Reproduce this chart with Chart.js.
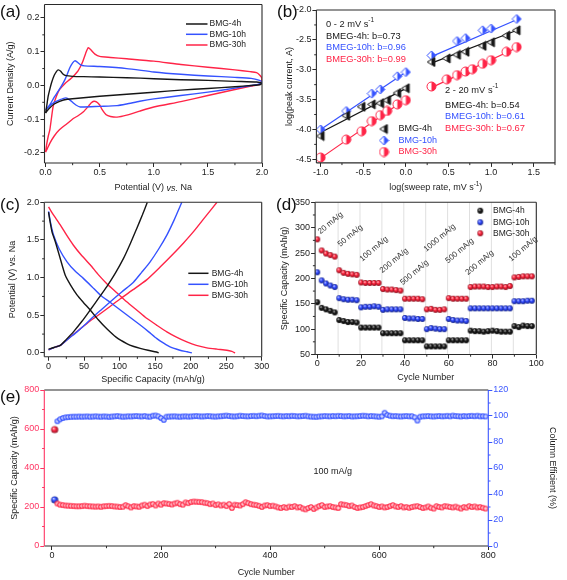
<!DOCTYPE html>
<html><head><meta charset="utf-8">
<script src="https://cdn.jsdelivr.net/npm/chart.js@4.4.1/dist/chart.umd.min.js"></script>
<style>
html,body{margin:0;padding:0;background:#fff;}
body{width:567px;height:580px;position:relative;overflow:hidden;font-family:'Liberation Sans',Arial,sans-serif;}
canvas{position:absolute;}
.lbl{position:absolute;font-size:17px;line-height:17px;color:#111;font-family:'Liberation Sans',Arial,sans-serif;}
</style></head><body>
<canvas id="ca"></canvas><canvas id="cb"></canvas><canvas id="cc"></canvas><canvas id="cd"></canvas><canvas id="ce"></canvas>
<div class="lbl" style="left:0px;top:3px">(a)</div>
<div class="lbl" style="left:277px;top:3px">(b)</div>
<div class="lbl" style="left:0px;top:196px">(c)</div>
<div class="lbl" style="left:276px;top:196px">(d)</div>
<div class="lbl" style="left:0px;top:388px">(e)</div>
<script>
// ---------------- DATA ----------------
const seriesNames = ['BMG-4h', 'BMG-10h', 'BMG-30h'];

// (a) cyclic voltammetry: potential (V) and current density (A/g)
const cvV4 = [0,0.01,0.024,0.04,0.055,0.08,0.1,0.117,0.14,0.16,0.19,0.25,0.35,0.5,0.75,1.0,1.25,1.5,1.75,1.95,2.0,
  1.98,1.9,1.75,1.5,1.25,1.0,0.75,0.5,0.3,0.2,0.13,0.08,0.04,0.015,0];
const cvI4 = [-0.082,-0.062,-0.032,-0.01,0.008,0.03,0.041,0.046,0.042,0.034,0.029,0.027,0.026,0.025,0.023,0.02,0.017,0.015,0.012,0.01,0.006,
  0.002,0.0,-0.004,-0.009,-0.014,-0.02,-0.026,-0.032,-0.038,-0.041,-0.047,-0.055,-0.066,-0.075,-0.082];
const cvV10 = [0,0.02,0.04,0.08,0.117,0.15,0.18,0.2,0.225,0.25,0.27,0.29,0.32,0.36,0.5,0.75,1.0,1.25,1.5,1.75,1.9,1.97,2.0,
  1.97,1.9,1.75,1.5,1.25,1.0,0.87,0.75,0.66,0.5,0.32,0.28,0.256,0.22,0.188,0.16,0.13,0.08,0.04,0.015,0];
const cvI10 = [-0.072,-0.065,-0.057,-0.035,-0.017,0.0,0.018,0.033,0.053,0.067,0.073,0.07,0.062,0.058,0.056,0.05,0.04,0.033,0.028,0.024,0.021,0.016,0.01,
  0.004,0.0,-0.008,-0.02,-0.03,-0.04,-0.047,-0.055,-0.06,-0.062,-0.064,-0.058,-0.052,-0.042,-0.037,-0.039,-0.043,-0.05,-0.06,-0.068,-0.072];
const cvV30 = [0,0.01,0.025,0.04,0.055,0.07,0.1,0.13,0.18,0.225,0.27,0.3,0.34,0.37,0.395,0.42,0.456,0.5,0.6,0.75,1.0,1.25,1.5,1.75,1.89,1.95,1.98,2.0,
  1.98,1.9,1.75,1.5,1.25,1.0,0.87,0.75,0.66,0.6,0.56,0.52,0.5,0.47,0.447,0.42,0.4,0.35,0.3,0.256,0.2,0.13,0.08,0.04,0.015,0];
const cvI30 = [-0.198,-0.175,-0.15,-0.13,-0.095,-0.062,-0.032,-0.012,0.006,0.018,0.032,0.043,0.068,0.095,0.112,0.105,0.093,0.086,0.083,0.079,0.072,0.062,0.054,0.046,0.041,0.038,0.03,0.02,
  0.004,-0.002,-0.012,-0.03,-0.048,-0.064,-0.076,-0.088,-0.094,-0.092,-0.087,-0.07,-0.058,-0.049,-0.047,-0.052,-0.06,-0.078,-0.09,-0.098,-0.113,-0.131,-0.15,-0.171,-0.188,-0.198];
const aTicksX = [0, 0.5, 1.0, 1.5, 2.0];
const aTicksY = [-0.2, -0.1, 0.0, 0.1, 0.2];

// (b) log(peak current) vs log(sweep rate)
const logLow = [-1.0, -0.7, -0.52, -0.4, -0.3, -0.22, -0.1, 0.0];
const logLow10 = [-1.0, -0.7, -0.4, -0.3, -0.1, 0.0];
const peak4Low = [-4.11, -3.77, -3.62, -3.58, -3.56, -3.51, -3.39, -3.31];
const peak10Low = [-4.0, -3.69, -3.40, -3.33, -3.11, -3.04];
const peak30Low = [-4.47, -4.17, -4.03, -3.86, -3.76, -3.69, -3.58, -3.51];
const logHigh4 = [0.30, 0.48, 0.60, 0.70, 0.90, 1.0, 1.18, 1.30];
const logHigh10 = [0.30, 0.60, 0.70, 0.90, 1.0, 1.30];
const logHigh30 = [0.30, 0.48, 0.60, 0.70, 0.78, 0.90, 1.0, 1.18, 1.30];
const peak4High = [-2.87, -2.81, -2.75, -2.70, -2.60, -2.54, -2.43, -2.34];
const peak10High = [-2.76, -2.52, -2.47, -2.34, -2.31, -2.15];
const peak30High = [-3.28, -3.16, -3.09, -3.03, -2.99, -2.90, -2.84, -2.70, -2.62];
const fitXLow = [-1.0, 0.02], fitXHigh = [0.30, 1.32];
const fit4Low = [-4.05, -3.30], fit10Low = [-4.00, -3.02], fit30Low = [-4.48, -3.47];
const fit4High = [-2.89, -2.33], fit10High = [-2.78, -2.15], fit30High = [-3.30, -2.62];
const bTicksX = [-1.0, -0.5, 0.0, 0.5, 1.0, 1.5];
const bTicksY = [-4.5, -4.0, -3.5, -3.0, -2.5, -2.0];
const bLow = ['0 - 2 mV s', 'BMEG-4h: b=0.73', 'BMEG-10h: b=0.96', 'BMEG-30h: b=0.99'];
const bHigh = ['2 - 20 mV s', 'BMEG-4h: b=0.54', 'BMEG-10h: b=0.61', 'BMEG-30h: b=0.67'];

// (c) charge / discharge profiles: capacity (mAh/g), potential (V)
const dis4Cap = [0,2,5,9.4,15,23.5,31,40,49,58.6,70,82,95,110,120,129,140,152,155];
const dis4V = [1.87,1.75,1.6,1.48,1.3,1.03,0.9,0.77,0.67,0.57,0.44,0.32,0.21,0.125,0.085,0.06,0.035,0.013,0.0];
const chg4Cap = [0,5,10,16.5,25,35,47,58.6,70,82,94,105.5,115,124,132,139];
const chg4V = [0.05,0.065,0.08,0.10,0.18,0.28,0.42,0.57,0.72,0.88,1.06,1.255,1.45,1.65,1.83,2.0];
const dis10Cap = [0,3,7,15,26,37,49,61,72.7,87,101,115,129,141,152.5,162,171,185,195,201.7];
const dis10V = [1.88,1.72,1.565,1.38,1.21,1.09,0.99,0.88,0.77,0.67,0.57,0.47,0.37,0.28,0.19,0.13,0.08,0.036,0.015,0.0];
const chg10Cap = [0,5,10,16.5,28,40,52,63,75,87,103,119.5,131,143,155,166.5,177,187.6];
const chg10V = [0.04,0.06,0.08,0.10,0.19,0.28,0.38,0.48,0.58,0.68,0.81,0.94,1.07,1.21,1.38,1.565,1.77,2.0];
const dis30Cap = [0,5,10,16.5,25,35,46,58.6,70,82,96,110,124,138,152,166.5,180,194.6,208,222.8,237,251,258,262.6];
const dis30V = [1.94,1.86,1.79,1.70,1.57,1.43,1.30,1.17,1.04,0.92,0.80,0.68,0.57,0.46,0.37,0.28,0.21,0.146,0.1,0.067,0.05,0.036,0.02,0.0];
const chg30Cap = [0,5,10,16.5,30,44.6,58,72.7,87,101,119,138,157,176,190,204,220,237];
const chg30V = [0.04,0.06,0.08,0.10,0.21,0.32,0.42,0.52,0.62,0.72,0.84,0.97,1.14,1.32,1.46,1.61,1.80,2.0];
const cTicksX = [0, 50, 100, 150, 200, 250, 300];
const cTicksY = [0.0, 0.5, 1.0, 1.5, 2.0];

// (d) rate capability
const rateCycle = [0,2,4,6,8,10,12,14,16,18,20,22,24,26,28,30,32,34,36,38,40,42,44,46,48,
  50,52,54,56,58,60,62,64,66,68,70,72,74,76,78,80,82,84,86,88,90,92,94,96,98];
const rate4 = [153,142,139,136,133, 118,116,114,114,113, 103,103,103,103,103, 92,92,92,92,92, 78,78,78,78,78,
  66,66,66,66,66, 78,78,78,78,78, 97,96,96,95,96,97,96,95,95,95, 106,104,107,106,106];
const rate10 = [212,196,190,186,183, 161,159,158,158,157, 143,144,144,145,144, 138,139,139,139,139, 122,121,121,120,120,
  100,102,101,100,100, 120,118,117,117,116, 141,141,141,141,141,141,141,141,141,141, 155,155,155,156,156];
const rate30 = [277,255,249,246,243, 216,211,209,208,207, 192,191,191,191,191, 179,178,178,177,176, 160,160,160,160,159,
  139,140,138,138,139, 161,160,160,160,160, 183,184,184,184,183,183,184,184,183,185, 202,203,204,204,204];
const rateBreaks = [9.5,19.5,29.5,39.5,49.5,59.5,69.5,79.5,89.5];
const rateLabels = ['20 mA/g','50 mA/g','100 mA/g','200 mA/g','500 mA/g','1000 mA/g','500 mA/g','200 mA/g','100 mA/g'];
const dTicksX = [0, 20, 40, 60, 80, 100];
const dTicksY = [50, 100, 150, 200, 250, 300, 350];

// (e) long-term cycling at 100 mA/g
const cycE = [5,10,15,20,25,30,35,40,45,50,
  55,60,65,70,75,80,85,90,95,100,
  105,110,115,120,125,130,135,140,145,150,
  155,160,165,170,175,180,185,190,195,200,
  205,210,215,220,225,230,235,240,245,250,
  255,260,265,270,275,280,285,290,295,300,
  305,310,315,320,325,330,335,340,345,350,
  355,360,365,370,375,380,385,390,395,400,
  405,410,415,420,425,430,435,440,445,450,
  455,460,465,470,475,480,485,490,495,500,
  505,510,515,520,525,530,535,540,545,550,
  555,560,565,570,575,580,585,590,595,600,
  605,610,615,620,625,630,635,640,645,650,
  655,660,665,670,675,680,685,690,695,700,
  705,710,715,720,725,730,735,740,745,750,
  755,760,765,770,775,780,785,790,795];
const capE = [597,
  218,212,210,208,207,206,205,204,204,205,
  207,205,204,203,202,203,201,204,205,206,
  205,203,202,200,201,210,204,198,205,203,
  201,208,212,205,213,216,208,218,212,220,
  218,216,213,218,222,215,212,224,220,226,
  228,227,226,225,222,220,215,218,210,214,
  208,212,205,216,195,212,210,208,215,225,
  220,215,212,210,206,200,208,210,205,207,
  203,198,195,200,196,202,200,205,198,200,
  192,188,195,200,190,198,205,210,200,203,
  205,200,198,195,215,212,210,205,208,200,
  195,198,200,205,210,215,208,205,200,203,
  198,200,205,210,203,200,205,198,200,196,
  200,203,205,200,195,198,203,196,192,205,
  200,198,205,203,200,198,202,197,192,200,
  197,205,200,203,198,200,196,192];
const ceE = [35.5,
  96,97.5,98.5,99,99.2,99.4,99.5,99.5,99.6,99.5,
  99.6,99.7,99.5,99.6,99.8,99.6,99.5,99.7,99.6,99.4,
  99.6,99.8,100,99.7,99.5,99.6,99.8,99.7,99.9,100,
  99.8,99.7,100,99.6,99.5,100.2,100.4,99.8,98.5,97,
  99.5,99.6,99.7,99.8,99.6,99.5,99.7,99.8,99.6,99.7,
  99.9,100,99.8,99.7,99.8,100,99.9,99.7,99.6,99.8,
  99.9,100.1,100.3,100,99.8,99.7,99.9,100.2,100,99.9,
  99.8,100,100.1,99.9,100.2,100.4,100,99.7,99.8,99.9,
  100,100.1,99.9,99.8,100,99.9,100.1,100,99.8,99.9,
  100,100.2,99.8,99.6,99.5,99.4,99.7,99.8,100,99.9,
  99.8,100,99.9,100.1,100,99.8,99.9,100,99.7,99.8,
  99.9,100,100.2,100.1,99.8,100,99.9,99.7,99.5,99.8,
  102.5,100.8,100.2,99.9,100,99.8,99.7,99.9,100,99.8,
  99.9,99,96.5,99.5,99.8,99.9,100,99.8,99.7,99.9,
  100,99.8,99.9,100.1,99.8,100.3,100,99.9,99.7,100,
  99.8,100,100.1,99.9,100.2,99.8,99.9,99.7];
const eTicksX = [0, 200, 400, 600, 800];
const eTicksY = [0, 200, 400, 600, 800];
const eTicksY2 = [0, 20, 40, 60, 80, 100, 120];

// ---------------- STYLE / HELPERS ----------------
const FONT = "'Liberation Sans', Arial, sans-serif";
const NARROW = "'Liberation Sans Narrow', 'Liberation Sans', Arial, sans-serif";
Chart.defaults.font.family = FONT;
Chart.defaults.font.size = 9;
Chart.defaults.color = '#222';
const BLACK = '#161616', BLUE = '#3552ff', RED = '#ff2447';
const EREDAX = '#ff3563', EBLUEAX = '#3a56ff';
const AX = '#2a2a2a';
const TITLE_V = {size: 9, family: FONT};
const TITLE_H = {size: 9, family: NARROW};

const pts = (xs, ys) => xs.map((x, i) => ({x, y: ys[i]}));
const f1 = v => Number(v).toFixed(1);
const f0 = v => String(Math.round(v));

function setupCanvas(id, left, top, w, h) {
  const c = document.getElementById(id);
  c.width = w; c.height = h;
  c.style.left = left + 'px'; c.style.top = top + 'px';
  c.style.width = w + 'px'; c.style.height = h + 'px';
  return c;
}

function ball(rgb, r) {
  const s = Math.ceil(2 * r + 2), c = document.createElement('canvas');
  c.width = c.height = s;
  const g = c.getContext('2d'), m = s / 2;
  const lite = rgb.map(v => Math.round(v + (255 - v) * 0.8));
  const dark = rgb.map(v => Math.round(v * 0.55));
  const gr = g.createRadialGradient(m - r * 0.35, m - r * 0.4, r * 0.05, m, m, r);
  gr.addColorStop(0, 'rgb(' + lite + ')');
  gr.addColorStop(0.45, 'rgb(' + rgb + ')');
  gr.addColorStop(1, 'rgb(' + dark + ')');
  g.fillStyle = gr; g.beginPath(); g.arc(m, m, r, 0, 2 * Math.PI); g.fill();
  return c;
}
function ring(rgb, r) {
  const s = Math.ceil(2 * r + 3), c = document.createElement('canvas');
  c.width = c.height = s;
  const g = c.getContext('2d'), m = s / 2;
  const lite = rgb.map(v => Math.round(v + (255 - v) * 0.75));
  g.beginPath(); g.arc(m, m, r, 0, 2 * Math.PI);
  g.fillStyle = 'rgb(' + lite + ')'; g.fill();
  g.lineWidth = 1.1; g.strokeStyle = 'rgb(' + rgb + ')'; g.stroke();
  return c;
}
function halfMarker(shape, color, size) {
  const s = size + 2, c = document.createElement('canvas');
  c.width = c.height = s;
  const g = c.getContext('2d'), m = s / 2, r = size / 2;
  const path = () => {
    g.beginPath();
    if (shape === 'tri') { g.moveTo(m + r * 0.75, m - r); g.lineTo(m + r * 0.75, m + r); g.lineTo(m - r * 0.95, m); g.closePath(); }
    else if (shape === 'dia') { g.moveTo(m, m - r); g.lineTo(m + r, m); g.lineTo(m, m + r); g.lineTo(m - r, m); g.closePath(); }
    else { g.arc(m, m, r, 0, Math.PI * 2); }
  };
  path(); g.fillStyle = '#fff'; g.fill();
  g.save(); path(); g.clip(); g.fillStyle = color; g.fillRect(m, 0, s, s); g.restore();
  path(); g.lineWidth = 1; g.strokeStyle = color; g.stroke();
  return c;
}
function rich(ctx, parts, x, y, size, align, color, fam) {
  fam = fam || FONT;
  const fontFor = p => (p.it ? 'italic ' : '') + (p.sup ? size * 0.7 : size) + 'px ' + fam;
  let w = 0;
  parts.forEach(p => { ctx.font = fontFor(p); p.w = ctx.measureText(p.t).width; w += p.w; });
  let cx = align === 'center' ? x - w / 2 : (align === 'right' ? x - w : x);
  ctx.textBaseline = 'middle'; ctx.textAlign = 'left';
  parts.forEach(p => {
    ctx.font = fontFor(p); ctx.fillStyle = p.c || color;
    ctx.fillText(p.t, cx, p.sup ? y - size * 0.38 : y); cx += p.w;
  });
}

// frame + minor ticks
const framePlugin = {
  id: 'frame',
  afterDraw(chart, args, opts) {
    const {ctx, chartArea: a} = chart;
    const col = opts.colors || {};
    ctx.save();
    ctx.lineWidth = 1.1;
    const side = (c, x1, y1, x2, y2) => { ctx.strokeStyle = c; ctx.beginPath(); ctx.moveTo(x1, y1); ctx.lineTo(x2, y2); ctx.stroke(); };
    side(col.top || AX, a.left, a.top, a.right, a.top);
    side(col.bottom || AX, a.left, a.bottom, a.right, a.bottom);
    side(col.left || AX, a.left, a.top, a.left, a.bottom);
    side(col.right || AX, a.right, a.top, a.right, a.bottom);
    ctx.lineWidth = 1;
    Object.values(chart.scales).forEach(s => {
      const t = s.ticks.map(k => k.value);
      if (t.length < 2) return;
      const half = (t[1] - t[0]) / 2;
      ctx.strokeStyle = s.options.grid.tickColor || AX;
      const pos = s.options.position;
      for (let v = t[0] - half; v <= s.max + 1e-9; v += 2 * half) {
        if (v < s.min - 1e-9) continue;
        const p = s.getPixelForValue(v);
        ctx.beginPath();
        if (pos === 'left') { ctx.moveTo(a.left, p); ctx.lineTo(a.left - 2.2, p); }
        else if (pos === 'right') { ctx.moveTo(a.right, p); ctx.lineTo(a.right + 2.2, p); }
        else { ctx.moveTo(p, a.bottom); ctx.lineTo(p, a.bottom + 2.2); }
        ctx.stroke();
      }
    });
    ctx.restore();
  }
};
Chart.register(framePlugin);

function linAxis(o) {
  const horiz = o.pos === 'bottom' || o.pos === 'top';
  const color = o.color || AX;
  return {
    type: 'linear', position: o.pos, min: o.min, max: o.max,
    afterBuildTicks: s => { s.ticks = o.ticks.map(v => ({value: v})); },
    afterFit: s => { if (horiz) s.height = o.size; else s.width = o.size; },
    grid: {display: true, drawOnChartArea: false, drawTicks: true, tickLength: 4, tickColor: color, tickWidth: 1},
    border: {display: false},
    ticks: {color: o.labelColor || '#222', font: {size: 9}, padding: horiz ? 0 : 1, maxRotation: 0, minRotation: 0,
      autoSkip: false, callback: v => o.fmt(v)},
    title: o.title ? {display: true, text: o.title, color: '#222', font: horiz ? TITLE_H : TITLE_V, padding: o.titlePad} : {display: false}
  };
}
function baseOpts(pad, scales, frame) {
  return {
    responsive: false, animation: false, devicePixelRatio: 1, events: [],
    layout: {padding: pad},
    plugins: {legend: {display: false}, tooltip: {enabled: false}, frame: frame || {}},
    scales
  };
}
const lineDs = (xs, ys, color, w) => ({data: pts(xs, ys), showLine: true, borderColor: color, borderWidth: w || 1.4,
  pointRadius: 0, fill: false, tension: 0.2});

// ---------------- (a) ----------------
setupCanvas('ca', 0, -2, 275, 197);
new Chart(document.getElementById('ca'), {
  type: 'scatter',
  data: {datasets: [lineDs(cvV4, cvI4, BLACK), lineDs(cvV10, cvI10, BLUE), lineDs(cvV30, cvI30, RED)]},
  options: baseOpts({left: 0, top: 6.5, right: 13, bottom: 0}, {
    x: linAxis({pos: 'bottom', min: -0.01, max: 2.0, ticks: aTicksX, size: 32, fmt: f1}),
    y: linAxis({pos: 'left', min: -0.23, max: 0.24, ticks: aTicksY, size: 44.5, fmt: f1,
      title: 'Current Density (A/g)', titlePad: {top: 5.5, bottom: 0}})
  }),
  plugins: [{id: 'aText', afterDraw(chart) {
    const ctx = chart.ctx, a = chart.chartArea;
    rich(ctx, [{t: 'Potential (V) '}, {t: 'vs.', it: true}, {t: ' Na'}], (a.left + a.right) / 2, 190, 9, 'center', '#222', NARROW);
    const cols = [BLACK, BLUE, RED], ys = [26, 36.3, 47];
    ctx.save();
    seriesNames.forEach((n, i) => {
      ctx.strokeStyle = cols[i]; ctx.lineWidth = 1.5;
      ctx.beginPath(); ctx.moveTo(186, ys[i]); ctx.lineTo(207.5, ys[i]); ctx.stroke();
      ctx.font = '8.5px ' + FONT; ctx.fillStyle = '#222'; ctx.textBaseline = 'middle'; ctx.textAlign = 'left';
      ctx.fillText(n, 209.5, ys[i]);
    });
    ctx.restore();
  }}]
});

// ---------------- (b) ----------------
const mk4 = halfMarker('tri', BLACK, 9), mk10 = halfMarker('dia', BLUE, 9), mk30 = halfMarker('circ', RED, 9);
const mkDs = (xs, ys, img) => ({data: pts(xs, ys), pointStyle: img, pointRadius: 4.5, showLine: false, order: 0});
const fitDs = (xs, ys, color) => Object.assign(lineDs(xs, ys, color, 1.2), {tension: 0, order: 1});
setupCanvas('cb', 280, 0, 287, 195);
new Chart(document.getElementById('cb'), {
  type: 'scatter',
  data: {datasets: [
    mkDs(logLow, peak4Low, mk4), mkDs(logLow10, peak10Low, mk10), mkDs(logLow, peak30Low, mk30),
    mkDs(logHigh4, peak4High, mk4), mkDs(logHigh10, peak10High, mk10), mkDs(logHigh30, peak30High, mk30),
    fitDs(fitXLow, fit4Low, BLACK), fitDs(fitXLow, fit10Low, BLUE), fitDs(fitXLow, fit30Low, RED),
    fitDs(fitXHigh, fit4High, BLACK), fitDs(fitXHigh, fit10High, BLUE), fitDs(fitXHigh, fit30High, RED)
  ]},
  options: baseOpts({left: 0, top: 10, right: 12, bottom: 0}, {
    x: linAxis({pos: 'bottom', min: -1.05, max: 1.75, ticks: bTicksX, size: 32.1, fmt: f1}),
    y: linAxis({pos: 'left', min: -4.56, max: -2.0, ticks: bTicksY, size: 36.4, fmt: f1,
      title: 'log(peak current, A)', titlePad: {top: 4, bottom: 0}})
  }),
  plugins: [{id: 'bText', afterDraw(chart) {
    const ctx = chart.ctx, a = chart.chartArea;
    rich(ctx, [{t: 'log(sweep rate, mV s'}, {t: '-1', sup: true}, {t: ')'}], (a.left + a.right) / 2, 188, 9, 'center', '#222', NARROW);
    const cols = ['#222', BLACK, BLUE, RED];
    const yl = [24, 36, 47.5, 59], yh = [90, 105, 116.5, 128];
    bLow.forEach((t, i) => rich(ctx, i === 0 ? [{t}, {t: '-1', sup: true}] : [{t}], 46, yl[i], 9.3, 'left', cols[i]));
    bHigh.forEach((t, i) => rich(ctx, i === 0 ? [{t}, {t: '-1', sup: true}] : [{t}], 165, yh[i], 9.3, 'left', cols[i]));
    const mks = [mk4, mk10, mk30], tc = [BLACK, BLUE, RED], ly = [129, 140.5, 152];
    seriesNames.forEach((n, i) => {
      ctx.drawImage(mks[i], 104 - mks[i].width / 2, ly[i] - mks[i].height / 2);
      rich(ctx, [{t: n}], 118.5, ly[i], 9, 'left', tc[i]);
    });
  }}]
});

// ---------------- (c) ----------------
setupCanvas('cc', 0, 195, 275, 195);
new Chart(document.getElementById('cc'), {
  type: 'scatter',
  data: {datasets: [
    lineDs(dis4Cap, dis4V, BLACK), lineDs(chg4Cap, chg4V, BLACK),
    lineDs(dis10Cap, dis10V, BLUE), lineDs(chg10Cap, chg10V, BLUE),
    lineDs(dis30Cap, dis30V, RED), lineDs(chg30Cap, chg30V, RED)
  ]},
  options: baseOpts({left: 0, top: 7.3, right: 13.3, bottom: 0}, {
    x: linAxis({pos: 'bottom', min: -6, max: 300, ticks: cTicksX, size: 33.3, fmt: f0,
      title: 'Specific Capacity (mAh/g)', titlePad: {top: 0, bottom: 4.8}}),
    y: linAxis({pos: 'left', min: -0.05, max: 2.0, ticks: cTicksY, size: 44.3, fmt: f1,
      title: 'Potential (V) vs. Na', titlePad: {top: 7.5, bottom: 0}})
  }),
  plugins: [{id: 'cText', afterDraw(chart) {
    const ctx = chart.ctx, cols = [BLACK, BLUE, RED], ys = [78.3, 89.3, 100.3];
    ctx.save();
    seriesNames.forEach((n, i) => {
      ctx.strokeStyle = cols[i]; ctx.lineWidth = 1.5;
      ctx.beginPath(); ctx.moveTo(188.3, ys[i]); ctx.lineTo(208.5, ys[i]); ctx.stroke();
      ctx.font = '8.5px ' + FONT; ctx.fillStyle = '#222'; ctx.textBaseline = 'middle'; ctx.textAlign = 'left';
      ctx.fillText(n, 211.7, ys[i]);
    });
    ctx.restore();
  }}]
});

// ---------------- (d) ----------------
const b4 = ball([25, 25, 25], 2.9), b10 = ball([45, 70, 255], 2.9), b30 = ball([255, 35, 60], 2.9);
const labelAnchors = [[1.5,287],[10.5,262],[20.5,233],[29.7,210],[39,186.5],[49.8,252],[59.7,229.5],[68.8,206],[88.6,233]];
setupCanvas('cd', 276, 195, 291, 195);
new Chart(document.getElementById('cd'), {
  type: 'scatter',
  data: {datasets: [
    {data: pts(rateCycle, rate4), pointStyle: b4, pointRadius: 3},
    {data: pts(rateCycle, rate10), pointStyle: b10, pointRadius: 3},
    {data: pts(rateCycle, rate30), pointStyle: b30, pointRadius: 3}
  ]},
  options: baseOpts({left: 0, top: 7.3, right: 30.7, bottom: 0}, {
    x: linAxis({pos: 'bottom', min: -1, max: 100, ticks: dTicksX, size: 35.5, fmt: f0,
      title: 'Cycle Number', titlePad: {top: 0, bottom: 7}}),
    y: linAxis({pos: 'left', min: 50, max: 350, ticks: dTicksY, size: 39.1, fmt: f0,
      title: 'Specific Capacity (mAh/g)', titlePad: {top: 3, bottom: 0}})
  }),
  plugins: [{id: 'dText',
    beforeDatasetsDraw(chart) {
      const ctx = chart.ctx, a = chart.chartArea, xs = chart.scales.x;
      ctx.save(); ctx.strokeStyle = 'rgba(0,0,0,0.16)'; ctx.lineWidth = 0.8;
      rateBreaks.forEach(v => { const p = xs.getPixelForValue(v); ctx.beginPath(); ctx.moveTo(p, a.top); ctx.lineTo(p, a.bottom); ctx.stroke(); });
      ctx.restore();
    },
    afterDraw(chart) {
      const ctx = chart.ctx, xs = chart.scales.x, ys = chart.scales.y;
      ctx.save();
      ctx.font = '8px ' + FONT; ctx.fillStyle = '#333'; ctx.textAlign = 'left'; ctx.textBaseline = 'alphabetic';
      rateLabels.forEach((t, i) => {
        ctx.save();
        ctx.translate(xs.getPixelForValue(labelAnchors[i][0]), ys.getPixelForValue(labelAnchors[i][1]));
        ctx.rotate(-40 * Math.PI / 180);
        ctx.fillText(t, 0, 0);
        ctx.restore();
      });
      const balls = [b4, b10, b30], ly = [15.7, 27.3, 38.3];
      seriesNames.forEach((n, i) => {
        ctx.drawImage(balls[i], 204.3 - balls[i].width / 2, ly[i] - balls[i].height / 2);
        ctx.font = '8.5px ' + FONT; ctx.fillStyle = '#222'; ctx.textBaseline = 'middle';
        ctx.fillText(n, 217, ly[i]);
      });
      ctx.restore();
    }
  }]
});

// ---------------- (e) ----------------
const eRedBall = ball([255, 40, 70], 3.6), eBlueBall = ball([50, 80, 255], 3.6);
const eRedRing = ring([255, 40, 70], 2.3), eBlueRing = ring([50, 80, 255], 2.3);
setupCanvas('ce', 0, 383, 567, 197);
new Chart(document.getElementById('ce'), {
  type: 'scatter',
  data: {datasets: [
    {data: pts(cycE, capE), yAxisID: 'y', pointStyle: c => c.dataIndex === 0 ? eRedBall : eRedRing, pointRadius: 2.5},
    {data: pts(cycE, ceE), yAxisID: 'y2', pointStyle: c => c.dataIndex === 0 ? eBlueBall : eBlueRing, pointRadius: 2.5}
  ]},
  options: baseOpts({left: 0, top: 7, right: 0, bottom: 0}, {
    x: linAxis({pos: 'bottom', min: -14, max: 800, ticks: eTicksX, size: 34, fmt: f0,
      title: 'Cycle Number', titlePad: {top: 0, bottom: 2}}),
    y: linAxis({pos: 'left', min: 0, max: 800, ticks: eTicksY, size: 44.3, fmt: f0, color: EREDAX, labelColor: EREDAX,
      title: 'Specific Capacity (mAh/g)', titlePad: {top: 9, bottom: 0}}),
    y2: linAxis({pos: 'right', min: 0, max: 120, ticks: eTicksY2, size: 78.7, fmt: f0, color: EBLUEAX, labelColor: EBLUEAX,
      title: 'Column Efficient (%)', titlePad: {top: 9, bottom: 0}})
  }, {colors: {left: EREDAX, right: EBLUEAX}}),
  plugins: [{id: 'eText', afterDraw(chart) {
    const ctx = chart.ctx;
    rich(ctx, [{t: '100 mA/g'}], chart.scales.x.getPixelForValue(515), chart.scales.y.getPixelForValue(380), 9, 'center', '#222');
  }}]
});
</script>
</body></html>
